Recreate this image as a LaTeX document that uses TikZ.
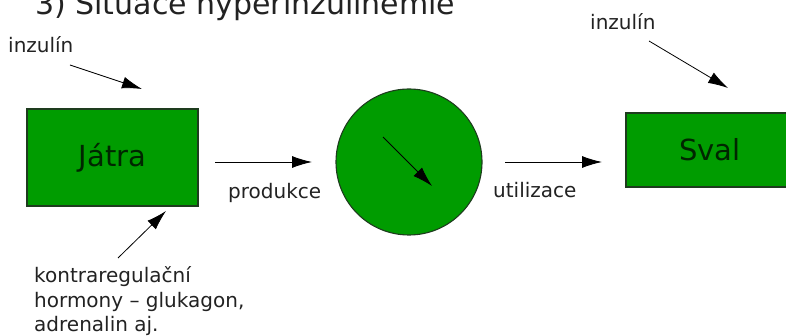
\documentclass[tikz,border=0pt]{standalone}
\usepackage{fontspec}
\setmainfont{DejaVu Sans}
\usetikzlibrary{arrows.meta}

\definecolor{zelena}{RGB}{0,156,0}
\definecolor{okraj}{RGB}{30,60,30}
\definecolor{pismo}{RGB}{34,34,34}

\tikzset{
  organ/.style={draw=okraj, line width=1.1pt, fill=zelena, text=black!85!green,
    font=\fontsize{29}{32}\selectfont},
  popis/.style={anchor=base west, text=pismo, font=\fontsize{20}{24}\selectfont, inner sep=0pt},
  sipka/.style={-{Latex[length=20pt,width=12pt]}, line width=0.8pt}
}

\begin{document}
\begin{tikzpicture}[x=1pt, y=-1pt]
  \useasboundingbox (0,0) rectangle (786,336);
  \clip (0,0) rectangle (786,336);

  % Nadpis
  \node[anchor=base west, text=pismo, inner sep=0pt, font=\fontsize{30}{34}\selectfont]
    (nadpis) at (35,15) {3) Situace hyperinzulinémie};

  % Orgány a krev
  \node[organ, minimum width=171pt, minimum height=97pt] (jatra) at (112.5,157.5) {Játra};
  \node[organ, circle, minimum size=146pt, inner sep=0pt] (krev) at (409,162) {};
  \node[organ, minimum width=168pt, minimum height=74pt] (sval) at (710,150) {Sval};

  % Popisky
  \node[popis] (inzA) at (8,53) {inzulín};
  \node[popis] (inzB) at (590,30) {inzulín};
  \node[popis] (produkce) at (228,199) {produkce};
  \node[popis] (utilizace) at (493,198) {utilizace};
  \node[popis] (kontra1) at (34,283) {kontraregulační};
  \node[popis] (kontra2) at (34,307) {hormony – glukagon,};
  \node[popis] (kontra3) at (34,331) {adrenalin aj.};

  % Konce šipek
  \coordinate (a1) at (70,65);   \coordinate (b1) at (142,89);
  \coordinate (a2) at (118,258); \coordinate (b2) at (166,211);
  \coordinate (a3) at (215,162); \coordinate (b3) at (312,162);
  \coordinate (a4) at (383,137); \coordinate (b4) at (432,186);
  \coordinate (a5) at (505,162); \coordinate (b5) at (602,162);
  \coordinate (a6) at (649,41);  \coordinate (b6) at (728,88);

  \draw[sipka] (a1) -- (b1);
  \draw[sipka] (a2) -- (b2);
  \draw[sipka] (a3) -- (b3);
  \draw[sipka] (a4) -- (b4);
  \draw[sipka] (a5) -- (b5);
  \draw[sipka] (a6) -- (b6);
\end{tikzpicture}
\end{document}
